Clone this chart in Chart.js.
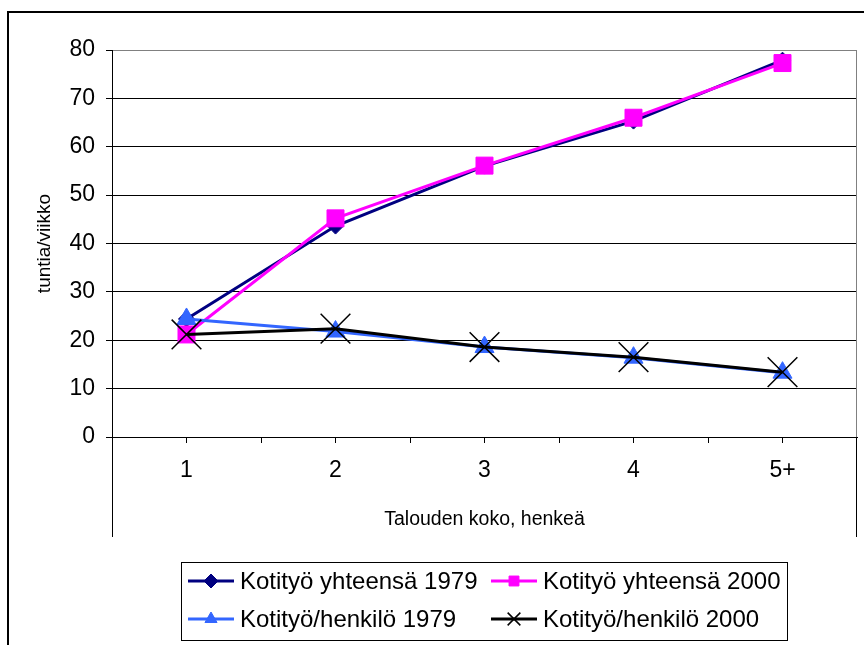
<!DOCTYPE html>
<html>
<head>
<meta charset="utf-8">
<script src="https://cdn.jsdelivr.net/npm/chart.js@4/dist/chart.umd.min.js"></script>
<style>
  body { margin: 0; background: #fff; }
  #wrap { width: 864px; height: 645px; }
</style>
</head>
<body>
<div id="wrap"><canvas id="kotityoChart" width="864" height="645"></canvas></div>
<script>
// Talouden koko (henkeä) ja kotityötunnit viikossa
const categories = ["1", "2", "3", "4", "5+"];
const yhteensa1979 = [24.4, 43.6, 56.0, 65.3, 77.9];
const yhteensa2000 = [21.2, 45.2, 56.1, 66.0, 77.3];
const henkilo1979 = [24.4, 21.8, 18.6, 16.4, 13.3];
const henkilo2000 = [21.2, 22.4, 18.6, 16.5, 13.4];
const yTicks = [0, 10, 20, 30, 40, 50, 60, 70, 80];

const FONT = "'Liberation Sans', Arial, sans-serif";

// legend markers are drawn smaller than the ones on the lines
const legendRadius = [7, 7, 7, 9];

const extrasPlugin = {
    id: "extras",
    beforeDatasetsDraw(chart) {
        const ctx = chart.ctx;
        const a = chart.chartArea;
        const x = chart.scales.x;
        ctx.save();
        // right edge of the plot area
        ctx.strokeStyle = "#808080";
        ctx.lineWidth = 1;
        ctx.beginPath();
        ctx.moveTo(a.right - 0.5, a.top);
        ctx.lineTo(a.right - 0.5, a.bottom);
        ctx.stroke();
        // tick marks between categories
        ctx.strokeStyle = "#000";
        ctx.beginPath();
        for (let i = 0; i < categories.length - 1; i++) {
            const px = Math.round((x.getPixelForValue(i) + x.getPixelForValue(i + 1)) / 2) + 0.5;
            ctx.moveTo(px, a.bottom);
            ctx.lineTo(px, a.bottom + 6);
        }
        ctx.stroke();
        // side lines under the category axis
        ctx.beginPath();
        ctx.moveTo(a.left + 0.5, a.bottom);
        ctx.lineTo(a.left + 0.5, a.bottom + 100);
        ctx.moveTo(a.right - 0.5, a.bottom);
        ctx.lineTo(a.right - 0.5, a.bottom + 100);
        ctx.stroke();
        ctx.restore();
    },
    afterDraw(chart) {
        const ctx = chart.ctx;
        ctx.save();
        // chart frame
        ctx.strokeStyle = "#000";
        ctx.lineWidth = 2;
        ctx.strokeRect(8, 12, 1000, 1000);

        // legend box, two columns
        ctx.lineWidth = 1;
        ctx.strokeRect(181.5, 562.5, 606, 78);
        const cols = [188, 491];
        const rows = [581, 619];
        chart.data.datasets.forEach((ds, i) => {
            const lx = cols[i % 2];
            const ly = rows[Math.floor(i / 2)];
            ctx.strokeStyle = ds.borderColor;
            ctx.lineWidth = 3;
            ctx.beginPath();
            ctx.moveTo(lx, ly);
            ctx.lineTo(lx + 46, ly);
            ctx.stroke();
            ctx.fillStyle = ds.pointBackgroundColor;
            ctx.strokeStyle = ds.pointBorderColor;
            ctx.lineWidth = ds.pointBorderWidth;
            Chart.helpers.drawPoint(ctx, {
                pointStyle: ds.pointStyle,
                radius: legendRadius[i],
                borderWidth: ds.pointBorderWidth,
                rotation: 0
            }, lx + 23, ly);
            ctx.fillStyle = "#000";
            ctx.font = "24px " + FONT;
            ctx.textBaseline = "middle";
            ctx.textAlign = "left";
            ctx.fillText(ds.label, lx + 52, ly + 1);
        });
        ctx.restore();
    }
};

function series(label, data, color, style, radius, borderW, order) {
    return {
        label: label,
        data: data,
        borderColor: color,
        backgroundColor: color,
        pointBackgroundColor: color,
        pointBorderColor: color,
        pointBorderWidth: borderW,
        pointStyle: style,
        pointRadius: radius,
        borderWidth: 3,
        tension: 0,
        clip: false,
        order: order
    };
}

new Chart(document.getElementById("kotityoChart"), {
    type: "line",
    data: {
        labels: categories,
        datasets: [
            series("Kotityö yhteensä 1979", yhteensa1979, "#000080", "rectRot", 8, 1, 4),
            series("Kotityö yhteensä 2000", yhteensa2000, "#FF00FF", "rect", 12, 1, 3),
            series("Kotityö/henkilö 1979", henkilo1979, "#3366FF", "triangle", 11, 1, 2),
            series("Kotityö/henkilö 2000", henkilo2000, "#000000", "crossRot", 21, 1.5, 1)
        ]
    },
    options: {
        responsive: false,
        animation: false,
        layout: {
            autoPadding: false,
            padding: { left: 20, top: 50, right: 7, bottom: 108 }
        },
        plugins: {
            legend: { display: false },
            tooltip: { enabled: false }
        },
        scales: {
            x: {
                offset: true,
                grid: {
                    offset: false,
                    drawOnChartArea: false,
                    color: "#000",
                    tickLength: 6
                },
                border: { color: "#000", width: 1 },
                ticks: {
                    color: "#000",
                    padding: 14,
                    maxRotation: 0,
                    font: { family: FONT, size: 23 }
                },
                title: {
                    display: true,
                    text: "Talouden koko, henkeä",
                    color: "#000",
                    font: { family: FONT, size: 19.5 },
                    padding: { top: 0, bottom: 6 }
                },
                afterFit(scale) {
                    scale.height = 100;
                }
            },
            y: {
                min: 0,
                max: 80,
                afterBuildTicks(scale) {
                    scale.ticks = yTicks.map(v => ({ value: v }));
                },
                grid: {
                    color: ctx => (ctx.tick && ctx.tick.value === 80 ? "#808080" : "#000"),
                    tickColor: "#000",
                    tickLength: 6
                },
                border: { color: "#000", width: 1 },
                ticks: {
                    color: "#000",
                    padding: 11,
                    font: { family: FONT, size: 23 }
                },
                title: {
                    display: true,
                    text: "tuntia/viikko",
                    color: "#000",
                    font: { family: FONT, size: 19 },
                    padding: { top: 13, bottom: 0 }
                },
                afterFit(scale) {
                    scale.width = 92;
                }
            }
        }
    },
    plugins: [extrasPlugin]
});
</script>
</body>
</html>
